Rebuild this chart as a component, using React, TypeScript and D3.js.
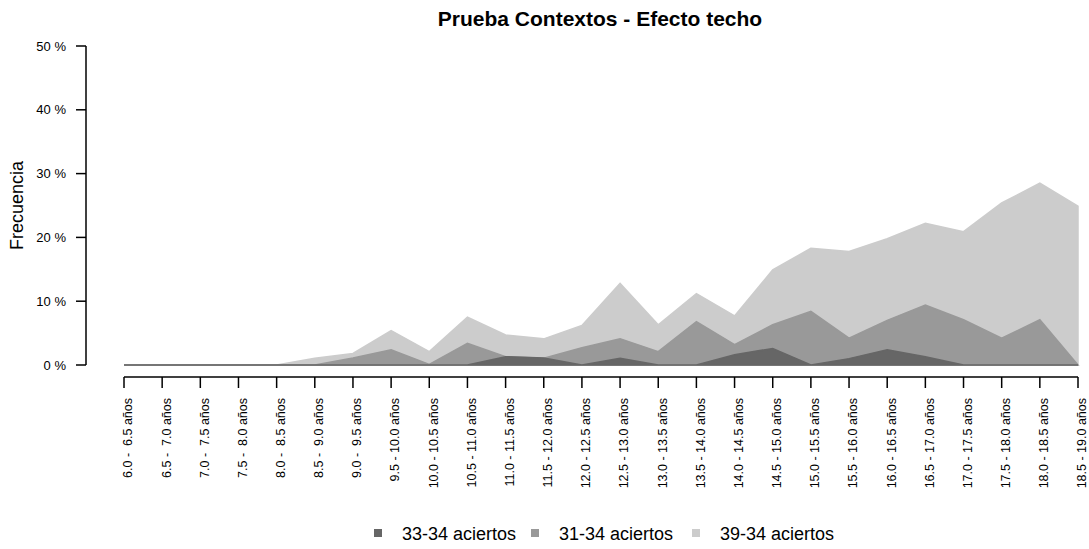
import * as React from 'react';
import * as d3 from 'd3';

const ageGroups = [
  ' 6.0 -  6.5', ' 6.5 -  7.0', ' 7.0 -  7.5', ' 7.5 -  8.0', ' 8.0 -  8.5',
  ' 8.5 -  9.0', ' 9.0 -  9.5', ' 9.5 - 10.0', '10.0 - 10.5', '10.5 - 11.0',
  '11.0 - 11.5', '11.5 - 12.0', '12.0 - 12.5', '12.5 - 13.0', '13.0 - 13.5',
  '13.5 - 14.0', '14.0 - 14.5', '14.5 - 15.0', '15.0 - 15.5', '15.5 - 16.0',
  '16.0 - 16.5', '16.5 - 17.0', '17.0 - 17.5', '17.5 - 18.0', '18.0 - 18.5',
  '18.5 - 19.0',
];

// frecuencia en %
const aciertos33 = [
  0, 0, 0, 0, 0, 0, 0, 0, 0, 0, 1.3, 1.1, 0, 1.05, 0, 0, 1.6, 2.6, 0, 1.0, 2.4, 1.3, 0, 0, 0, 0,
];
const aciertos31 = [
  0, 0, 0, 0, 0, 0, 1.1, 2.4, 0.1, 3.4, 1.3, 1.05, 2.7, 4.1, 2.1, 6.8, 3.2, 6.3, 8.4, 4.2, 7.0, 9.4, 7.1, 4.2, 7.1, 0,
];
const aciertos39 = [
  0, 0, 0, 0, 0, 1.05, 1.8, 5.4, 2.1, 7.5, 4.7, 4.1, 6.2, 12.8, 6.3, 11.2, 7.7, 14.9, 18.3, 17.8, 19.8, 22.2, 20.9, 25.4, 28.5, 24.9,
];

const yTicks = [0, 10, 20, 30, 40, 50];

const seriesNames = ['33-34 aciertos', '31-34 aciertos', '39-34 aciertos'];
const seriesColors = ['#666666', '#999999', '#cccccc'];

const width = 1089;
const height = 549;
const font = 'Liberation Sans, Arial, Helvetica, sans-serif';

export default function App() {
  const ref = React.useRef<SVGSVGElement>(null);

  React.useEffect(() => {
    const svg = d3.select(ref.current);
    svg.selectAll('*').remove();

    const x = d3.scalePoint<number>()
      .domain(d3.range(ageGroups.length))
      .range([124, 1078]);
    const y = d3.scaleLinear().domain([0, 50]).range([365, 46]);

    // title
    svg.append('text')
      .attr('x', 600).attr('y', 26)
      .attr('text-anchor', 'middle')
      .attr('font-family', font).attr('font-size', 21).attr('font-weight', 'bold')
      .text('Prueba Contextos - Efecto techo');

    // areas: lightest behind
    const series = [aciertos39, aciertos31, aciertos33];
    const colors = [seriesColors[2], seriesColors[1], seriesColors[0]];
    series.forEach((vals, k) => {
      const area = d3.area<number>()
        .x((_, i) => x(i) as number)
        .y0(y(0))
        .y1(d => y(d));
      svg.append('path')
        .attr('d', area(vals))
        .attr('fill', colors[k])
        .attr('stroke', colors[k])
        .attr('stroke-width', 1.5);
    });

    // y axis
    const gy = svg.append('g').attr('transform', 'translate(86,0)');
    gy.append('line').attr('x1', 0).attr('x2', 0).attr('y1', y(50)).attr('y2', y(0))
      .attr('stroke', '#000').attr('stroke-width', 1.5);
    yTicks.forEach(t => {
      gy.append('line').attr('x1', -10).attr('x2', 0).attr('y1', y(t)).attr('y2', y(t))
        .attr('stroke', '#000').attr('stroke-width', 1.5);
      gy.append('text')
        .attr('x', -20).attr('y', y(t)).attr('dy', '0.35em')
        .attr('text-anchor', 'end')
        .attr('font-family', font).attr('font-size', 13)
        .text(`${t} %`);
    });

    svg.append('text')
      .attr('transform', `translate(23,${(y(0) + y(50)) / 2}) rotate(-90)`)
      .attr('text-anchor', 'middle')
      .attr('font-family', font).attr('font-size', 18)
      .text('Frecuencia');

    // x axis
    const gx = svg.append('g').attr('transform', 'translate(0,377)');
    gx.append('line').attr('x1', x(0) as number).attr('x2', x(ageGroups.length - 1) as number)
      .attr('y1', 0).attr('y2', 0).attr('stroke', '#000').attr('stroke-width', 1.5);
    ageGroups.forEach((g, i) => {
      const xi = x(i) as number;
      gx.append('line').attr('x1', xi).attr('x2', xi).attr('y1', 0).attr('y2', 11)
        .attr('stroke', '#000').attr('stroke-width', 1.5);
      gx.append('text')
        .attr('transform', `translate(${xi + 4},21) rotate(-90)`)
        .attr('dy', '0.35em')
        .attr('text-anchor', 'end')
        .attr('font-family', font).attr('font-size', 12.5)
        .style('white-space', 'pre')
        .text(`${g} años`);
    });

    // legend
    const legendX = [374, 531, 692];
    seriesNames.forEach((name, k) => {
      svg.append('rect')
        .attr('x', legendX[k]).attr('y', 529).attr('width', 8).attr('height', 8)
        .attr('fill', seriesColors[k]);
      svg.append('text')
        .attr('x', legendX[k] + 28).attr('y', 540)
        .attr('font-family', font).attr('font-size', 18)
        .text(name);
    });
  }, []);

  return (
    <svg ref={ref} width={width} height={height}
      style={{ position: 'absolute', left: 0, top: 0, background: '#fff' }} />
  );
}
